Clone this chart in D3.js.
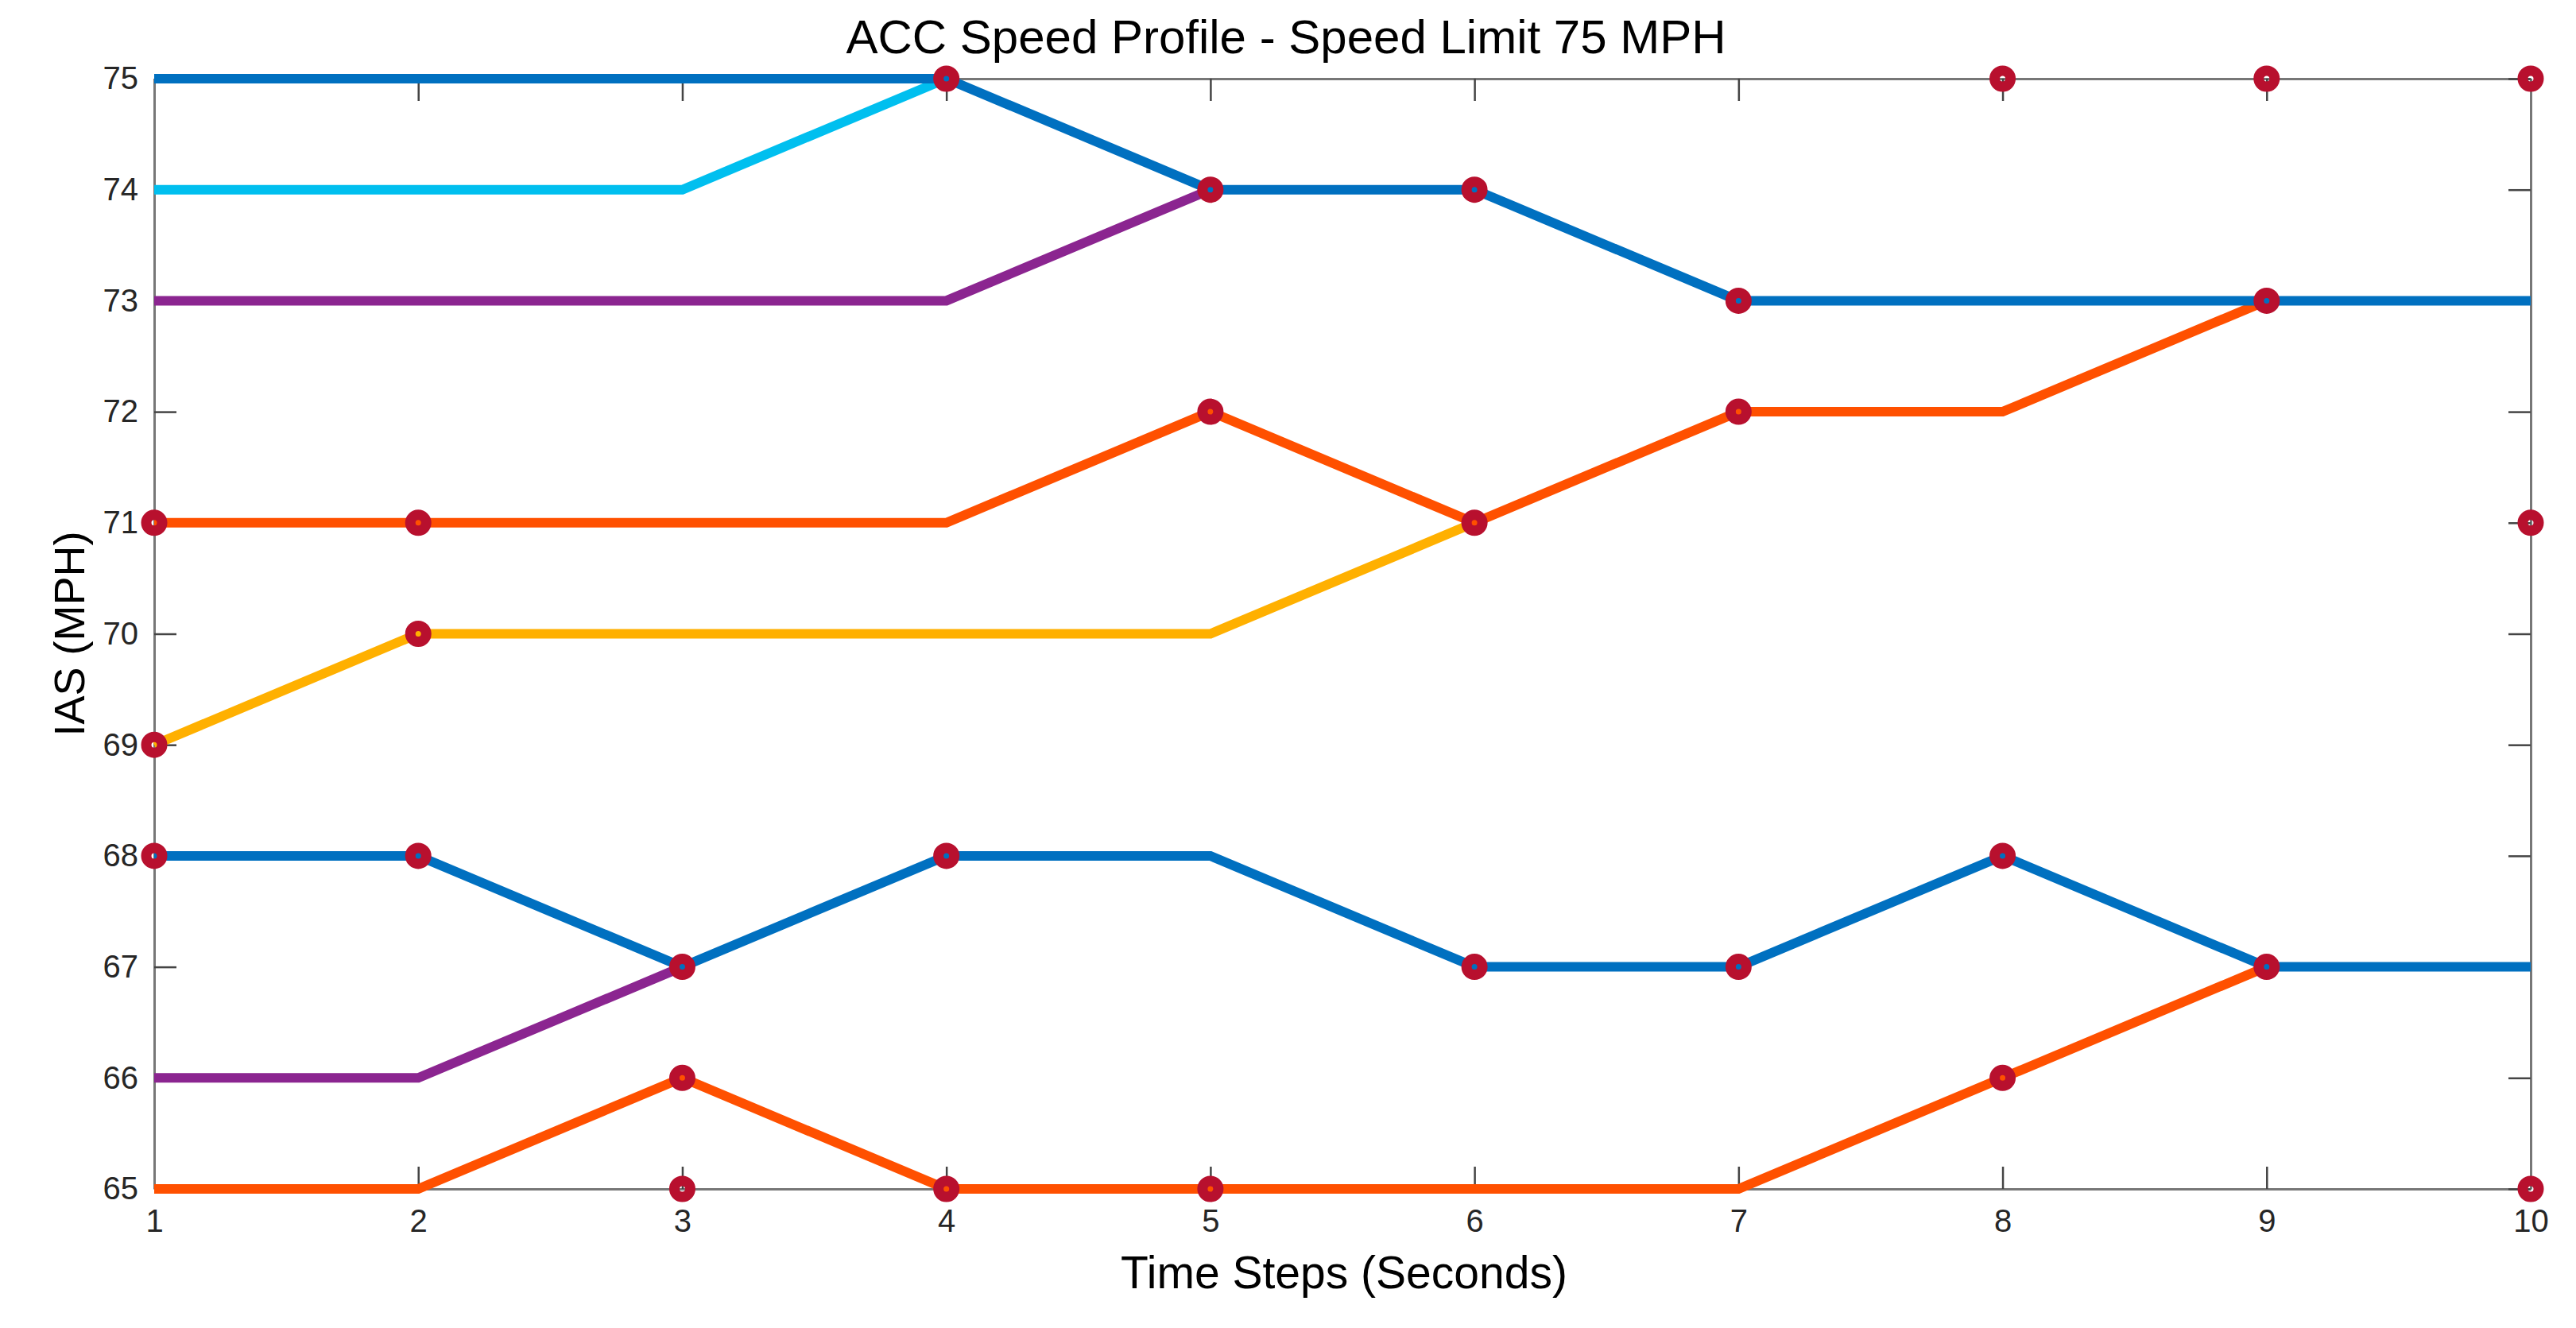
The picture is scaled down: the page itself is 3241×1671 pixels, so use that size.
<!DOCTYPE html>
<html>
<head>
<meta charset="utf-8">
<script src="https://cdn.jsdelivr.net/npm/d3@7"></script>
<style>
  body { margin: 0; background: #fff; }
  text { font-family: "Liberation Sans", Arial, sans-serif; }
  .tick text { font-family: "Liberation Sans Narrow", "Liberation Sans", Arial, sans-serif; }
</style>
</head>
<body>
<script>
var steps = [1, 2, 3, 4, 5, 6, 7, 8, 9, 10];
var yTicks = [65, 66, 67, 68, 69, 70, 71, 72, 73, 74, 75];

// upper group of vehicles
var leadTop = [75, 75, 75, 75, 74, 74, 73, 73, 73, 73];
var cyanTop = [74, 74, 74, 75];
var purpleTop = [73, 73, 73, 73, 74];
var orangeTop = [71, 71, 71, 71, 72, 71, 72, 72, 73];
var yellowTop = [69, 70, 70, 70, 70, 71];

// lower group of vehicles
var leadBottom = [68, 68, 67, 68, 68, 67, 67, 68, 67, 67];
var purpleBottom = [66, 66, 67];
var orangeBottom = [65, 65, 66, 65, 65, 65, 65, 66, 67];

// sampled points (red circles)
var markHigh = [71, 71, 67, 75, 74, 74, 73, 75, 75, 75];
var markMid = [69, 70, 66, 68, 72, 71, 72, 68, 73, 71];
var markLow = [68, 68, 65, 65, 65, 67, 67, 66, 67, 65];

var width = 3241,
    height = 1671;

var plotLeft = 194, plotRight = 3184, plotTop = 99, plotBottom = 1496;

var svg = d3.select("body").append("svg")
    .attr("width", width)
    .attr("height", height)

var x = d3.scaleLinear().domain([1, 10]).range([plotLeft, plotRight]);
var y = d3.scaleLinear().domain([65, 75]).range([plotBottom, plotTop]);

/* axes box, ticks pointing inward */
function styleAxis(g) {
    g.select(".domain").attr("stroke", "#777").attr("stroke-width", 3);
    g.selectAll(".tick line").attr("stroke", "#444").attr("stroke-width", 2.5);
    g.selectAll(".tick text").attr("fill", "#262626").attr("font-size", 40);
}

svg.append("g")
    .attr("transform", "translate(0," + plotBottom + ")")
    .call(d3.axisBottom(x).tickValues(steps).tickSizeInner(-28).tickSizeOuter(0).tickPadding(26))
    .call(styleAxis);

svg.append("g")
    .attr("transform", "translate(0," + plotTop + ")")
    .call(d3.axisTop(x).tickValues(steps).tickSizeInner(-28).tickSizeOuter(0).tickFormat(""))
    .call(styleAxis);

svg.append("g")
    .attr("transform", "translate(" + plotLeft + ",0)")
    .call(d3.axisLeft(y).tickValues(yTicks).tickSizeInner(-28).tickSizeOuter(0).tickPadding(20))
    .call(styleAxis);

svg.append("g")
    .attr("transform", "translate(" + plotRight + ",0)")
    .call(d3.axisRight(y).tickValues(yTicks).tickSizeInner(-28).tickSizeOuter(0).tickFormat(""))
    .call(styleAxis);

/* speed lines, lead vehicles drawn last */
var series = [
    { values: yellowTop, color: "#FFB000" },
    { values: orangeTop, color: "#FF5000" },
    { values: purpleTop, color: "#8B2590" },
    { values: cyanTop, color: "#00BFEF" },
    { values: leadTop, color: "#0070C0" },
    { values: purpleBottom, color: "#8B2590" },
    { values: orangeBottom, color: "#FF5000" },
    { values: leadBottom, color: "#0070C0" }
];

var line = d3.line()
    .x(function (d, i) { return x(steps[i]) })
    .y(function (d) { return y(d) });

svg.selectAll("path.speed")
    .data(series)
    .enter()
    .append("path")
    .attr("class", "speed")
    .attr("d", function (d) { return line(d.values) })
    .attr("fill", "none")
    .attr("stroke", function (d) { return d.color })
    .attr("stroke-width", 12)
    .attr("stroke-linejoin", "miter");

/* hollow red markers */
var marks = [];
steps.forEach(function (s, i) {
    marks.push({ t: s, v: markHigh[i] });
    marks.push({ t: s, v: markMid[i] });
    marks.push({ t: s, v: markLow[i] });
});

svg.selectAll("circle.mark")
    .data(marks)
    .enter()
    .append("circle")
    .attr("class", "mark")
    .attr("cx", function (d) { return x(d.t) })
    .attr("cy", function (d) { return y(d.v) })
    .attr("r", 10)
    .attr("fill", "none")
    .attr("stroke", "#B8102E")
    .attr("stroke-width", 13);

/* labels */
svg.append("text")
    .attr("x", 1618)
    .attr("y", 67)
    .attr("text-anchor", "middle")
    .attr("font-size", 60)
    .attr("fill", "#000")
    .text("ACC Speed Profile - Speed Limit 75 MPH");

svg.append("text")
    .attr("x", 1691)
    .attr("y", 1621)
    .attr("text-anchor", "middle")
    .attr("font-size", 57)
    .attr("fill", "#000")
    .text("Time Steps (Seconds)");

svg.append("text")
    .attr("transform", "translate(106," + ((plotTop + plotBottom) / 2) + ") rotate(-90)")
    .attr("text-anchor", "middle")
    .attr("font-size", 54)
    .attr("fill", "#000")
    .text("IAS (MPH)");
</script>
</body>
</html>
